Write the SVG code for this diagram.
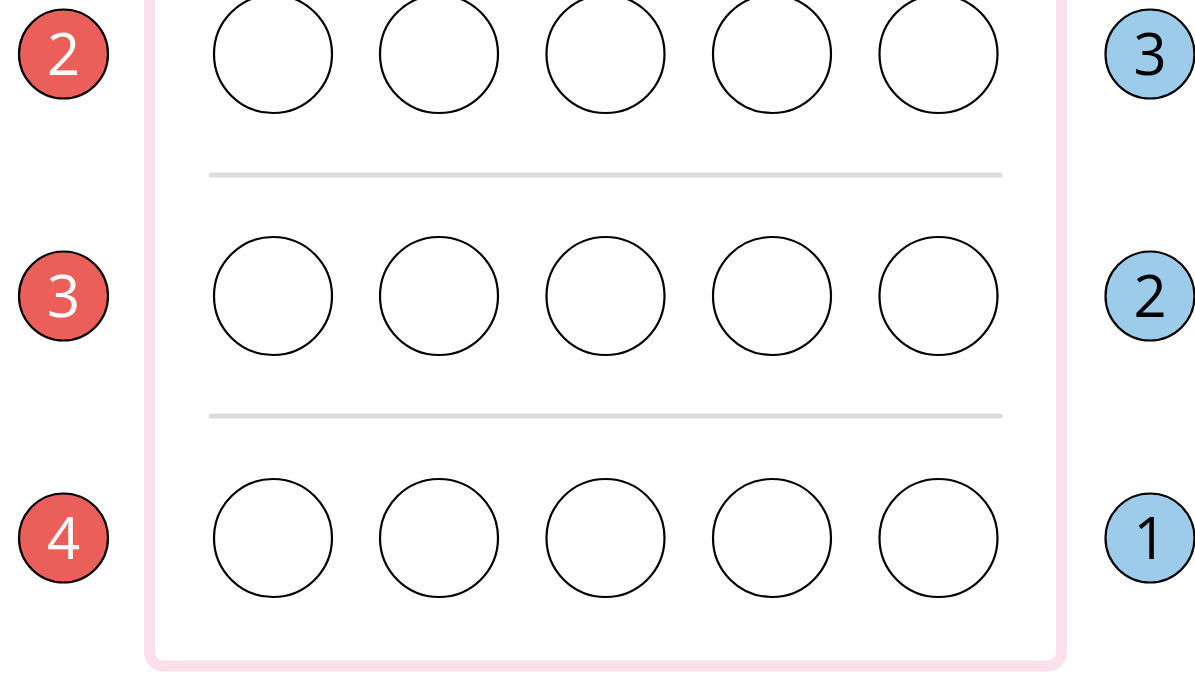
<svg xmlns="http://www.w3.org/2000/svg" width="1195" height="674" viewBox="0 0 1195 674">
<style>
.frame{fill:#ffffff;stroke:#f9e0ea;stroke-width:11}
.sep{stroke:#dcdcdc;stroke-width:5;stroke-linecap:round}
.slot{fill:#ffffff;stroke:#000000;stroke-width:2.2}
.red{fill:#eb5f5a;stroke:#000000;stroke-width:2.2}
.blue{fill:#9dcbea;stroke:#000000;stroke-width:2.2}
.num{font-family:"Open Sans","Noto Sans",sans-serif;font-size:58px;font-weight:400;text-anchor:middle}
.wt{fill:#ffffff}
.bk{fill:#000000}
</style>
<rect width="1195" height="674" fill="#ffffff"/>
<g id="frame"><rect class="frame" x="149.5" y="-30" width="912" height="696" rx="14"/></g>
<g id="connectors">
<line class="sep" x1="211" y1="175" x2="1000" y2="175"/>
<line class="sep" x1="211" y1="416" x2="1000" y2="416"/>
</g>
<g id="row1">
<circle class="slot" cx="273" cy="54" r="59"/>
<circle class="slot" cx="439" cy="54" r="59"/>
<circle class="slot" cx="605.5" cy="54" r="59"/>
<circle class="slot" cx="772" cy="54" r="59"/>
<circle class="slot" cx="938.5" cy="54" r="59"/>
</g>
<g id="row2">
<circle class="slot" cx="273" cy="296" r="59"/>
<circle class="slot" cx="439" cy="296" r="59"/>
<circle class="slot" cx="605.5" cy="296" r="59"/>
<circle class="slot" cx="772" cy="296" r="59"/>
<circle class="slot" cx="938.5" cy="296" r="59"/>
</g>
<g id="row3">
<circle class="slot" cx="273" cy="538" r="59"/>
<circle class="slot" cx="439" cy="538" r="59"/>
<circle class="slot" cx="605.5" cy="538" r="59"/>
<circle class="slot" cx="772" cy="538" r="59"/>
<circle class="slot" cx="938.5" cy="538" r="59"/>
</g>
<g id="red-2"><circle class="red" cx="63.5" cy="54" r="44.5"/><text class="num wt" x="63.5" y="75">2</text></g>
<g id="red-3"><circle class="red" cx="63.5" cy="296" r="44.5"/><text class="num wt" x="63.5" y="317">3</text></g>
<g id="red-4"><circle class="red" cx="63.5" cy="538" r="44.5"/><text class="num wt" x="63.5" y="559">4</text></g>
<g id="blue-3"><circle class="blue" cx="1150" cy="54" r="44.5"/><text class="num bk" x="1150" y="75">3</text></g>
<g id="blue-2"><circle class="blue" cx="1150" cy="296" r="44.5"/><text class="num bk" x="1150" y="317">2</text></g>
<g id="blue-1"><circle class="blue" cx="1150" cy="538" r="44.5"/><text class="num bk" x="1150" y="559">1</text></g>
</svg>
